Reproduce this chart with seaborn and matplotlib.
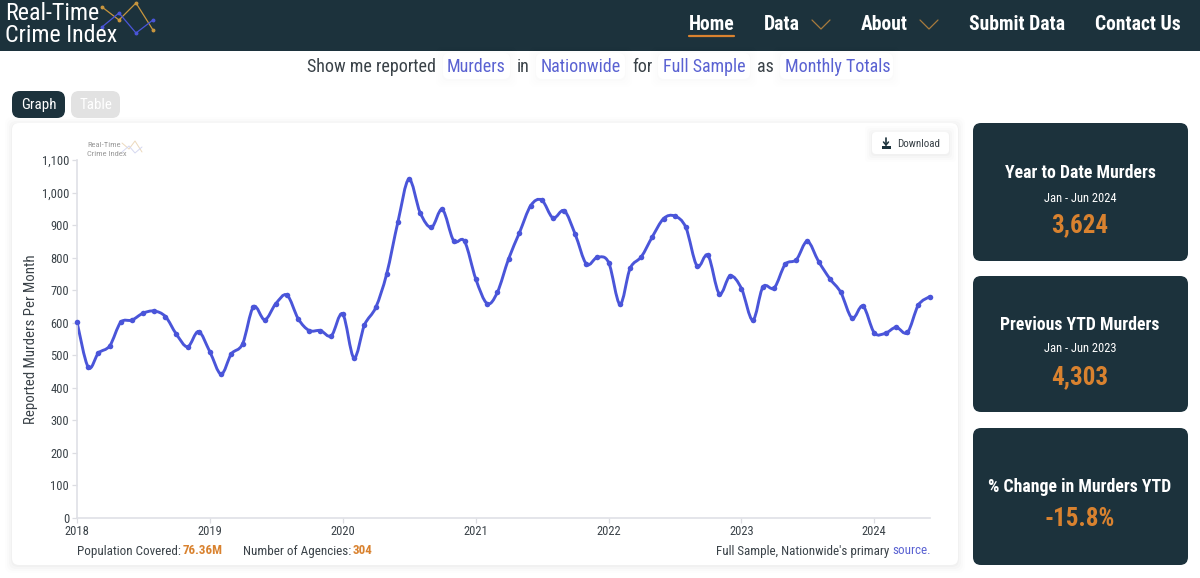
import matplotlib
matplotlib.use("Agg")
import matplotlib.pyplot as plt
import matplotlib.dates as mdates
import numpy as np
import pandas as pd
import seaborn as sns
from matplotlib import font_manager
from matplotlib.patches import FancyBboxPatch, PathPatch, Rectangle
from matplotlib.path import Path

# monthly totals, Jan 2018 - Jun 2024
murders = [
    602, 463, 507, 529, 601, 608, 629, 636, 619, 565, 526, 573,
    511, 442, 504, 535, 649, 609, 658, 685, 612, 576, 576, 560,
    627, 492, 593, 647, 750, 910, 1041, 938, 893, 948, 852, 850,
    734, 659, 693, 796, 877, 960, 977, 922, 944, 872, 780, 801,
    785, 657, 767, 803, 864, 920, 928, 893, 774, 807, 689, 744,
    705, 608, 710, 707, 779, 794, 850, 788, 735, 693, 614, 651,
    569, 568, 586, 570, 654, 680,
]
year_labels = ["2018", "2019", "2020", "2021", "2022", "2023", "2024"]
y_ticks = [0, 100, 200, 300, 400, 500, 600, 700, 800, 900, 1000, 1100]
card_titles = ["Year to Date Murders", "Previous YTD Murders", "% Change in Murders YTD"]
card_periods = ["Jan - Jun 2024", "Jan - Jun 2023", ""]
card_values = ["3,624", "4,303", "-15.8%"]

DARK = "#1c323c"
ORANGE = "#d9822f"
BLUE = "#4a55d9"
LINK = "#5a62d2"
TEXT = "#3a4248"

sns.set_theme(style="white")
installed = {f.name for f in font_manager.fontManager.ttflist}
NARROW = next(f for f in ["Roboto Condensed", "Liberation Sans Narrow", "Roboto", "DejaVu Sans"] if f in installed)
plt.rcParams["font.family"] = [NARROW, "DejaVu Sans"]

W, H = 1200, 578
fig = plt.figure(figsize=(12, 5.78), dpi=100, facecolor="white")

# page chrome lives in an axes that counts in pixels
page = fig.add_axes([0, 0, 1, 1], zorder=0)
page.set_xlim(0, W)
page.set_ylim(H, 0)
page.axis("off")


def box(x0, y0, x1, y1, color, radius=8, shadow=0.0, z=1):
    if shadow:
        for grow, alpha in [(7, 0.4), (5, 0.5), (3, 0.7), (1, 1.0)]:
            page.add_patch(FancyBboxPatch((x0 - grow + radius, y0 - grow + 1 + radius),
                                          x1 - x0 + 2 * grow - 2 * radius, y1 - y0 + 2 * grow - 2 * radius,
                                          boxstyle=f"round,pad={radius},rounding_size={radius}",
                                          fc="black", ec="none", alpha=alpha * shadow, zorder=z))
    page.add_patch(FancyBboxPatch((x0 + radius, y0 + radius), x1 - x0 - 2 * radius, y1 - y0 - 2 * radius,
                                  boxstyle=f"round,pad={radius},rounding_size={radius}",
                                  fc=color, ec="none", zorder=z + 0.1))


def label(x, y, s, px=13, color=TEXT, ha="left", weight="normal"):
    page.text(x, y, s, fontsize=px * 0.72, color=color, ha=ha, va="center", fontweight=weight, zorder=5)


# header
page.add_patch(Rectangle((0, 0), W, 51, fc=DARK, ec="none", zorder=1))
label(5, 13, "Real-Time", 24, "white")
label(5, 35, "Crime Index", 24, "white")
logo_x = np.array([102, 119, 136, 153])
page.plot(logo_x, [7, 20, 3, 30], color="#c8963e", lw=0.9, marker="o", ms=1.8, zorder=4)
page.plot(logo_x, [27, 13, 33, 20], color=BLUE, lw=0.9, marker="o", ms=1.8, zorder=4)

for x, s in [(689, "Home"), (764, "Data"), (861, "About"), (969, "Submit Data"), (1095, "Contact Us")]:
    label(x, 24, s, 19.6, "white", weight="bold")
page.plot([689, 734], [36, 36], color=ORANGE, lw=1.6, zorder=4)
for x in [812, 920]:
    page.plot([x, x + 9, x + 18], [20, 29, 20], color="#a87a3c", lw=0.9, zorder=4)

# sentence with the filter pills
for x0, x1 in [(443, 510), (536, 625), (658, 750), (780, 893)]:
    box(x0, 53, x1, 79, "white", radius=6, shadow=0.006)
for x, s in [(307, "Show me reported"), (517, "in"), (632, "for"), (757, "as")]:
    label(x, 66.5, s, 18, TEXT)
for x, s in [(447, "Murders"), (541, "Nationwide"), (663, "Full Sample"), (785, "Monthly Totals")]:
    label(x, 66.5, s, 18, LINK)

# graph / table toggle
box(12, 91, 65, 118, DARK, radius=8)
box(71, 91, 120, 118, "#e2e2e2", radius=8)
label(38.5, 105, "Graph", 15, "white", ha="center")
label(95.5, 105, "Table", 15, "white", ha="center")

# chart card
box(12, 123, 958, 565, "white", radius=7, shadow=0.02)
label(87, 145, "Real-Time", 8.5, "#9a9a9a")
label(87, 153.5, "Crime Index", 8.5, "#9a9a9a")
small_x = np.array([122, 129, 135, 142])
page.plot(small_x, [143, 149, 141, 152], color="#ecd9bd", lw=0.7, zorder=4)
page.plot(small_x, [152, 146, 153, 147], color="#d5d8f0", lw=0.7, zorder=4)

# download button
box(872, 132, 949, 154, "white", radius=4, shadow=0.02, z=2)
page.plot([886, 886], [138, 145], color=DARK, lw=1.2, zorder=5)
page.plot([883.5, 886, 888.5], [142, 145, 142], color=DARK, lw=1.1, zorder=5)
page.add_patch(Rectangle((881.5, 146), 9, 2.5, fc=DARK, ec="none", zorder=5))
label(897, 144, "Download", 11, TEXT)

# footer of the chart card
label(77, 551, "Population Covered:", 13, TEXT)
label(183, 551, "76.36M", 13, ORANGE, weight="bold")
label(243, 551, "Number of Agencies:", 13, TEXT)
label(353, 551, "304", 13, ORANGE, weight="bold")
label(889, 551, "Full Sample, Nationwide's primary", 13, TEXT, ha="right")
label(892, 551, "source.", 13, LINK)

# stat cards
card_tops = [(123, 261), (276, 412), (428, 565)]
title_y = [173, 325, 487]
period_y = [198, 349, 0]
value_y = [225, 377, 519]
for i, (top, bottom) in enumerate(card_tops):
    box(973, top, 1188, bottom, DARK, radius=8)
    label(1080, title_y[i], card_titles[i], 17.8, "white", ha="center", weight="bold")
    if card_periods[i]:
        label(1080, period_y[i], card_periods[i], 12.5, "white", ha="center")
    label(1080, value_y[i], card_values[i], 25, ORANGE, ha="center", weight="bold")

# the chart itself
df = pd.DataFrame({"month": pd.date_range("2018-01-01", periods=len(murders), freq="MS"), "murders": murders})
x_left, x_right, y_top, y_bottom = 77, 929.6, 160, 518
ax = fig.add_axes([x_left / W, 1 - y_bottom / H, (x_right - x_left) / W, (y_bottom - y_top) / H], zorder=2)
ax.patch.set_alpha(0)

sns.scatterplot(data=df, x="month", y="murders", color=BLUE, s=16, linewidth=0, ax=ax, clip_on=False, zorder=3)

# smooth curve through the monthly points, catmull-rom as bezier segments
xs = mdates.date2num(df["month"])
ys = df["murders"].to_numpy(dtype=float)
pts = np.column_stack([xs, ys])
padded = np.vstack([pts[0], pts, pts[-1]])
verts = [pts[0]]
codes = [Path.MOVETO]
for i in range(1, len(padded) - 2):
    verts += [padded[i] + (padded[i + 1] - padded[i - 1]) / 6,
              padded[i + 1] - (padded[i + 2] - padded[i]) / 6,
              padded[i + 1]]
    codes += [Path.CURVE4] * 3
ax.add_patch(PathPatch(Path(verts, codes), fc="none", ec=BLUE, lw=2.1, capstyle="round", zorder=2, clip_on=False))

ax.set_xlim(df["month"].iloc[0], df["month"].iloc[-1])
ax.set_ylim(0, 1100)
ax.set_yticks(y_ticks)
ax.set_yticklabels([f"{v:,}" for v in y_ticks])
ax.set_xticks(pd.to_datetime([f"{y}-01-01" for y in year_labels]))
ax.set_xticklabels(year_labels)
ax.set_xlabel("")
ax.set_ylabel("Reported Murders Per Month", fontsize=14.9 * 0.72, color=TEXT, labelpad=3)
ax.tick_params(axis="both", length=3.6, width=0.9, color="#dcdde2", labelcolor=TEXT,
               labelsize=12.5 * 0.72, bottom=True, left=True)
ax.tick_params(axis="y", pad=2)
ax.tick_params(axis="x", pad=1.2)
sns.despine(ax=ax)
for side in ["left", "bottom"]:
    ax.spines[side].set_color("#dfe0e6")
    ax.spines[side].set_linewidth(1.2)

fig.savefig("out.png", dpi=100)
